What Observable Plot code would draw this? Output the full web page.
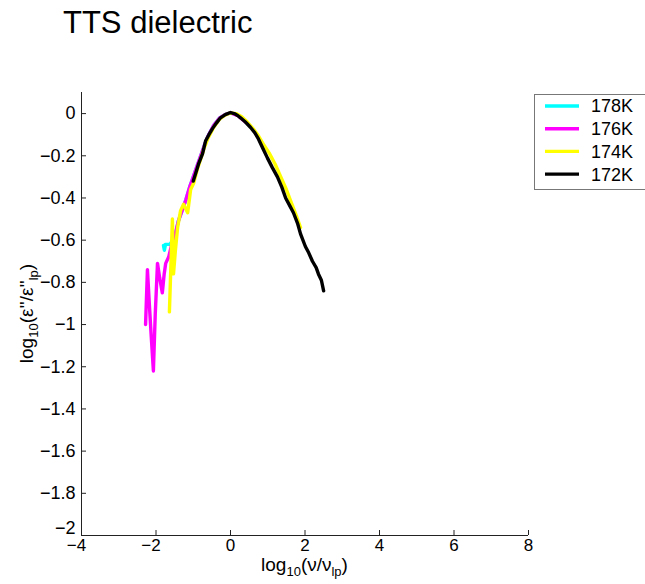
<!DOCTYPE html>
<html><head><meta charset="utf-8">
<script src="https://cdn.jsdelivr.net/npm/d3@7"></script>
<script src="https://cdn.jsdelivr.net/npm/@observablehq/plot@0.6"></script>
<style>
body{margin:0;background:#fff;font-family:"Liberation Sans",Arial,sans-serif;}
#title{height:44px;position:relative;}
#title span{position:absolute;left:63px;top:7px;font-size:31px;line-height:31px;color:#000;}
</style></head><body>
<div id="title"><span>TTS dielectric</span></div>
<div id="chart"></div>
<script>
// ---- data ----
const seriesNames = ["178K", "176K", "174K", "172K"];
const seriesColors = ["#00ffff", "#ff00ff", "#ffff00", "#000000"];

const x178 = [-1.80, -1.775, -1.745, -1.63, -1.55, -1.48, -1.4, -1.3, -1.2, -1.1, -1.02, -0.9, -0.8, -0.7, -0.6, -0.45, -0.3, -0.15, 0];
const y178 = [-0.625, -0.648, -0.62, -0.62, -0.6, -0.57, -0.51, -0.46, -0.41, -0.35, -0.31, -0.25, -0.2, -0.15, -0.105, -0.055, -0.022, -0.005, 0.003];

const x176 = [-2.28, -2.23, -2.18, -2.13, -2.07, -2.02, -1.96, -1.9, -1.83, -1.78, -1.74, -1.66, -1.55, -1.48, -1.4, -1.3, -1.2, -1.1, -1.02, -0.9, -0.8, -0.7, -0.6, -0.45, -0.3, -0.15, 0, 0.2, 0.4];
const y176 = [-1.0, -0.74, -0.9, -1.05, -1.22, -0.95, -0.71, -0.78, -0.85, -0.76, -0.71, -0.68, -0.6, -0.57, -0.51, -0.46, -0.41, -0.35, -0.31, -0.25, -0.2, -0.15, -0.105, -0.055, -0.022, -0.005, 0.003, -0.01, -0.04];

const x174 = [-1.64, -1.56, -1.53, -1.48, -1.42, -1.34, -1.26, -1.15, -1.07, -0.99, -0.9, -0.8, -0.7, -0.6, -0.45, -0.3, -0.15, 0, 0.15, 0.3, 0.45, 0.6, 0.75, 0.9, 1.05, 1.2, 1.35, 1.5, 1.65, 1.78, 1.88];
const y174 = [-0.94, -0.5, -0.76, -0.65, -0.54, -0.46, -0.43, -0.47, -0.36, -0.33, -0.27, -0.215, -0.16, -0.115, -0.065, -0.028, -0.007, 0.003, 0.0, -0.015, -0.04, -0.07, -0.105, -0.15, -0.19, -0.24, -0.3, -0.36, -0.43, -0.49, -0.54];

const x172 = [-1.0, -0.93, -0.86, -0.75, -0.67, -0.58, -0.48, -0.38, -0.27, -0.14, 0, 0.1, 0.2, 0.27, 0.4, 0.54, 0.65, 0.75, 0.87, 0.99, 1.12, 1.26, 1.38, 1.48, 1.6, 1.69, 1.8, 1.88, 2.01, 2.1, 2.2, 2.3, 2.36, 2.44, 2.5];
const y172 = [-0.32, -0.28, -0.24, -0.19, -0.13, -0.1, -0.07, -0.045, -0.02, -0.005, 0.005, 0.0, -0.01, -0.02, -0.04, -0.066, -0.09, -0.12, -0.165, -0.21, -0.255, -0.30, -0.35, -0.40, -0.44, -0.47, -0.52, -0.57, -0.63, -0.66, -0.70, -0.73, -0.76, -0.79, -0.84];

const xTicks = [-4, -2, 0, 2, 4, 6, 8];
const xTickLabels = ["\u22124", "\u22122", "0", "2", "4", "6", "8"];
const yTicks = [0, -0.2, -0.4, -0.6, -0.8, -1, -1.2, -1.4, -1.6, -1.8, -2];
const yTickLabels = ["0", "\u22120.2", "\u22120.4", "\u22120.6", "\u22120.8", "\u22121", "\u22121.2", "\u22121.4", "\u22121.6", "\u22121.8", "\u22122"];

// ---- build table ----
const xs = [x178, x176, x174, x172];
const ys = [y178, y176, y174, y172];
const rows = [];
seriesNames.forEach((name, s) => {
  xs[s].forEach((xv, i) => rows.push({series: name, x: xv, y: ys[s][i]}));
});
const colorOf = Object.fromEntries(seriesNames.map((n, i) => [n, seriesColors[i]]));

const W = 645, H = 540;
const mL = 81, mR = 117, mT = 48, mB = 49;
const ff = '"Liberation Sans", Arial, sans-serif';
const xLab = d => xTickLabels[xTicks.indexOf(d)];
const yLab = d => yTickLabels[yTicks.findIndex(t => Math.abs(t - d) < 1e-9)];

const plot = Plot.plot({
  width: W, height: H,
  marginLeft: mL, marginRight: mR, marginTop: mT, marginBottom: mB,
  style: {fontFamily: ff, fontSize: "18px", color: "#000", background: "#fff"},
  x: {domain: [-4, 8]},
  y: {domain: [-2, 0.1]},
  marks: [
    ...seriesNames.map(name => Plot.line(rows.filter(r => r.series === name), {
      x: "x", y: "y", stroke: colorOf[name], strokeWidth: 3.4, strokeLinejoin: "round", strokeLinecap: "round"
    })),
    Plot.ruleX([-4], {stroke: "#222", strokeWidth: 1}),
    Plot.ruleY([-2], {stroke: "#222", strokeWidth: 1}),
    Plot.ruleX(xTicks, {x: d => d, y1: -2, y2: -2, insetTop: -5, stroke: "#222"}),
    Plot.ruleY(yTicks, {y: d => d, x1: -4, x2: -4, insetRight: -5, stroke: "#222"}),
    // negative x labels: digit centred on tick, minus hanging left (as in the reference)
    Plot.axisX({ticks: xTicks.filter(t => t < 0), tickSize: 0, tickPadding: 3, label: null, fontSize: 17,
      dx: -5, tickFormat: xLab}),
    Plot.axisX({ticks: xTicks.filter(t => t >= 0), tickSize: 0, tickPadding: 3, label: null, fontSize: 17,
      tickFormat: xLab}),
    Plot.axisY({ticks: yTicks.filter(t => t > -2), tickSize: 0, tickPadding: 6, label: null, fontSize: 18,
      tickFormat: yLab}),
    Plot.axisY({ticks: [-2], tickSize: 0, tickPadding: 6, label: null, fontSize: 18, dy: -7,
      tickFormat: yLab})
  ]
});
document.getElementById("chart").appendChild(plot);

const svg = d3.select(plot);

// x label: log10(ν/νlp)
const xl = svg.append("text").attr("x", (mL + W - mR) / 2).attr("y", 527)
  .attr("text-anchor", "middle").attr("font-family", ff).attr("font-size", 19).attr("fill", "#000");
xl.append("tspan").text("log");
xl.append("tspan").attr("font-size", 13).attr("dy", 5).text("10");
xl.append("tspan").attr("dy", -5).text("(\u03bd/\u03bd");
xl.append("tspan").attr("font-size", 13).attr("dy", 5).text("lp");
xl.append("tspan").attr("dy", -5).text(")");

// y label: log10(ε''/ε''lp)
const yl = svg.append("text").attr("transform", `translate(33,${(mT + H - mB) / 2}) rotate(-90)`)
  .attr("text-anchor", "middle").attr("font-family", ff).attr("font-size", 19).attr("fill", "#000");
yl.append("tspan").text("log");
yl.append("tspan").attr("font-size", 13).attr("dy", 5).text("10");
yl.append("tspan").attr("dy", -5).text("(\u03b5''/\u03b5''");
yl.append("tspan").attr("font-size", 13).attr("dy", 5).text("lp");
yl.append("tspan").attr("dy", -5).text(")");

// legend
const lg = svg.append("g");
lg.append("rect").attr("x", 534.5).attr("y", 50.5).attr("width", 130).attr("height", 95)
  .attr("fill", "#fff").attr("stroke", "#777");
seriesNames.forEach((name, i) => {
  const yy = 62 + i * 22.7;
  lg.append("line").attr("x1", 545).attr("x2", 579).attr("y1", yy).attr("y2", yy)
    .attr("stroke", seriesColors[i]).attr("stroke-width", 3.4);
  lg.append("text").attr("x", 591).attr("y", yy).attr("dy", "0.36em").attr("text-anchor", "start")
    .attr("font-family", ff).attr("font-size", 18).attr("fill", "#000").text(name);
});
</script>
</body></html>
